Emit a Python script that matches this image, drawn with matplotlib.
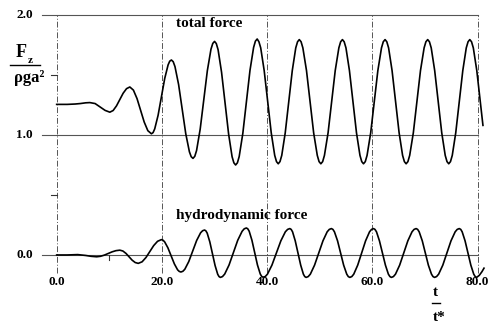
import matplotlib
matplotlib.use("Agg")
import matplotlib.pyplot as plt

# total force F_z / (rho g a^2) vs t/t* (one row per half swing)
tot_t = [0, 2, 3.5, 4.5, 5.5, 6.3, 7.3, 8.2, 9.2, 10.1,
         10.73, 11.37, 12.0, 12.63, 13.27, 13.9,
         14.58, 15.27, 15.95, 16.63, 17.32, 18.0,
         18.32, 18.63, 19.27, 19.9, 20.53, 21.17, 21.48, 21.8,
         22.14, 22.48, 23.17, 23.85, 24.53, 25.22, 25.56, 25.9,
         26.24, 26.58, 27.27, 27.95, 28.63, 29.32, 29.66, 30.0,
         30.33, 30.67, 31.33, 32.0, 32.67, 33.33, 33.67, 34.0,
         34.34, 34.68, 35.37, 36.05, 36.73, 37.42, 37.76, 38.1,
         38.43, 38.77, 39.43, 40.1, 40.77, 41.43, 41.77, 42.1,
         42.43, 42.77, 43.43, 44.1, 44.77, 45.43, 45.77, 46.1,
         46.44, 46.78, 47.47, 48.15, 48.83, 49.52, 49.86, 50.2,
         50.54, 50.88, 51.57, 52.25, 52.93, 53.62, 53.96, 54.3,
         54.63, 54.97, 55.63, 56.3, 56.97, 57.63, 57.97, 58.3,
         58.64, 58.98, 59.67, 60.35, 61.03, 61.72, 62.06, 62.4,
         62.73, 63.07, 63.73, 64.4, 65.07, 65.73, 66.07, 66.4,
         66.74, 67.08, 67.77, 68.45, 69.13, 69.82, 70.16, 70.5,
         70.83, 71.17, 71.83, 72.5, 73.17, 73.83, 74.17, 74.5,
         74.83, 75.17, 75.83, 76.5, 77.17, 77.83, 78.17, 78.5,
         78.83, 79.17, 79.83, 80.5, 81.0]
tot_v = [1.255, 1.255, 1.258, 1.262, 1.268, 1.270, 1.262, 1.235, 1.205, 1.190,
         1.204, 1.243, 1.295, 1.348, 1.386, 1.400,
         1.374, 1.303, 1.205, 1.108, 1.036, 1.010,
         1.020, 1.051, 1.164, 1.318, 1.471, 1.584, 1.615, 1.625,
         1.611, 1.570, 1.420, 1.215, 1.010, 0.860, 0.819, 0.805,
         0.822, 0.870, 1.049, 1.293, 1.536, 1.715, 1.763, 1.780,
         1.762, 1.711, 1.523, 1.265, 1.008, 0.819, 0.768, 0.750,
         0.768, 0.820, 1.013, 1.275, 1.538, 1.730, 1.782, 1.800,
         1.777, 1.726, 1.537, 1.278, 1.018, 0.830, 0.778, 0.760,
         0.778, 0.830, 1.018, 1.278, 1.537, 1.726, 1.777, 1.795,
         1.777, 1.726, 1.537, 1.278, 1.018, 0.830, 0.778, 0.760,
         0.778, 0.830, 1.018, 1.278, 1.537, 1.726, 1.777, 1.795,
         1.777, 1.726, 1.537, 1.278, 1.018, 0.830, 0.778, 0.760,
         0.778, 0.830, 1.018, 1.278, 1.537, 1.726, 1.777, 1.795,
         1.777, 1.726, 1.537, 1.278, 1.018, 0.830, 0.778, 0.760,
         0.778, 0.830, 1.018, 1.278, 1.537, 1.726, 1.777, 1.795,
         1.777, 1.726, 1.537, 1.278, 1.018, 0.830, 0.778, 0.760,
         0.778, 0.830, 1.018, 1.278, 1.537, 1.726, 1.777, 1.795,
         1.777, 1.726, 1.537, 1.278, 1.080]

# hydrodynamic force
hyd_t = [0, 2, 4, 5.5, 6.5, 7.6,
         8.33, 9.07, 9.8, 10.53, 11.27, 12.0,
         12.58, 13.17, 13.75, 14.33, 14.92, 15.5,
         16.23, 16.97, 17.7, 18.43, 19.17, 19.9,
         20.21, 20.52, 21.13, 21.75, 22.37, 22.98, 23.29, 23.6,
         23.98, 24.35, 25.1, 25.85, 26.6, 27.35, 27.73, 28.1,
         28.35, 28.6, 29.1, 29.6, 30.1, 30.6, 30.85, 31.1,
         31.51, 31.93, 32.75, 33.58, 34.4, 35.23, 35.64, 36.05,
         36.31, 36.58, 37.1, 37.63, 38.15, 38.68, 38.94, 39.2,
         39.63, 40.05, 40.9, 41.75, 42.6, 43.45, 43.88, 44.3,
         44.56, 44.82, 45.33, 45.85, 46.37, 46.88, 47.14, 47.4,
         47.8, 48.2, 49.0, 49.8, 50.6, 51.4, 51.8, 52.2,
         52.49, 52.78, 53.37, 53.95, 54.53, 55.12, 55.41, 55.7,
         56.08, 56.45, 57.2, 57.95, 58.7, 59.45, 59.83, 60.2,
         60.48, 60.77, 61.33, 61.9, 62.47, 63.03, 63.32, 63.6,
         63.99, 64.38, 65.17, 65.95, 66.73, 67.52, 67.91, 68.3,
         68.59, 68.88, 69.47, 70.05, 70.63, 71.22, 71.51, 71.8,
         72.19, 72.58, 73.37, 74.15, 74.93, 75.72, 76.11, 76.5,
         76.78, 77.05, 77.6, 78.15, 78.7, 79.25, 79.53, 79.8,
         80.3, 80.8, 81.2]
hyd_v = [0.0, 0.0, 0.003, -0.004, -0.011, -0.015,
         -0.011, -0.001, 0.013, 0.026, 0.036, 0.040,
         0.033, 0.013, -0.015, -0.043, -0.063, -0.070,
         -0.057, -0.021, 0.029, 0.078, 0.114, 0.128,
         0.123, 0.109, 0.060, -0.007, -0.075, -0.124, -0.137, -0.142,
         -0.136, -0.119, -0.055, 0.033, 0.121, 0.185, 0.202, 0.208,
         0.201, 0.182, 0.109, 0.011, -0.088, -0.161, -0.180, -0.187,
         -0.180, -0.159, -0.084, 0.019, 0.122, 0.197, 0.218, 0.225,
         0.218, 0.198, 0.123, 0.020, -0.083, -0.158, -0.178, -0.185,
         -0.180, -0.160, -0.085, 0.017, 0.118, 0.193, 0.213, 0.220,
         0.213, 0.193, 0.118, 0.017, -0.085, -0.160, -0.180, -0.187,
         -0.180, -0.160, -0.085, 0.017, 0.118, 0.193, 0.213, 0.220,
         0.213, 0.193, 0.118, 0.017, -0.085, -0.160, -0.180, -0.187,
         -0.180, -0.160, -0.085, 0.017, 0.118, 0.193, 0.213, 0.220,
         0.213, 0.193, 0.118, 0.017, -0.085, -0.160, -0.180, -0.187,
         -0.180, -0.160, -0.085, 0.017, 0.118, 0.193, 0.213, 0.220,
         0.213, 0.193, 0.118, 0.017, -0.085, -0.160, -0.180, -0.187,
         -0.180, -0.160, -0.085, 0.017, 0.118, 0.193, 0.213, 0.220,
         0.213, 0.193, 0.118, 0.017, -0.085, -0.160, -0.180, -0.187,
         -0.170, -0.140, -0.110]

x_ticks = [0, 20, 40, 60, 80]
x_labels = ["0.0", "20.0", "40.0", "60.0", "80.0"]
y_ticks = [0.0, 1.0, 2.0]
y_labels = ["0.0", "1.0", "2.0"]

SERIF = "Liberation Serif"

fig = plt.figure(figsize=(5.01, 3.26), dpi=100)
ax = fig.add_axes([0, 0, 1, 1])
ax.set_xlim(-10.77, 84.43)
ax.set_ylim(-0.592, 2.125)
ax.axis("off")

# frame / grid
for y in y_ticks:
    ax.plot([-2.8, 80], [y, y], color="#555555", lw=0.8)
for x in x_ticks:
    ax.plot([x, x], [-0.15, 2.0], color="#555555", lw=0.7,
            linestyle=(0, (6, 2, 1, 2)))
# little tick marks
for y in [0.5, 1.5]:
    ax.plot([-1.0, 0], [y, y], color="#333333", lw=0.8)
ax.plot([10, 10], [0, -0.04], color="#333333", lw=0.8)

# curves
ax.plot(tot_t, tot_v, color="black", lw=1.2, solid_joinstyle="round")
ax.plot(hyd_t, hyd_v, color="black", lw=1.2, solid_joinstyle="round")

# tick labels
for y, lab in zip(y_ticks, y_labels):
    ax.text(-4.5, y, lab, ha="right", va="center", fontsize=9.5,
            fontweight="bold", family=SERIF)
for x, lab in zip(x_ticks, x_labels):
    ax.text(x, -0.225, lab, ha="center", va="center", fontsize=9.5,
            fontweight="bold", family=SERIF)

# curve labels
ax.text(22.6, 1.93, "total force", ha="left", va="center", fontsize=11,
        fontweight="bold", family=SERIF)
ax.text(22.6, 0.325, "hydrodynamic force", ha="left", va="center",
        fontsize=11, fontweight="bold", family=SERIF)

# y axis label  F_z / rho g a^2
ax.text(-6.8, 1.69, "F", ha="center", va="center", fontsize=13,
        fontweight="bold", family=SERIF)
ax.text(-5.0, 1.617, "z", ha="center", va="center", fontsize=8,
        fontweight="bold", family=SERIF)
ax.plot([-8.87, -3.17], [1.583, 1.583], color="black", lw=1.0)
ax.text(-5.3, 1.479, "ρga²", ha="center", va="center", fontsize=12,
        fontweight="bold", family=SERIF)

# x axis label  t / t*
ax.text(71.98, -0.3125, "t", ha="center", va="center", fontsize=11,
        fontweight="bold", family=SERIF)
ax.plot([71.3, 72.8], [-0.4, -0.4], color="black", lw=1.0)
ax.text(72.74, -0.521, "t*", ha="center", va="center", fontsize=11,
        fontweight="bold", family=SERIF)

fig.savefig("out.png", dpi=100)
